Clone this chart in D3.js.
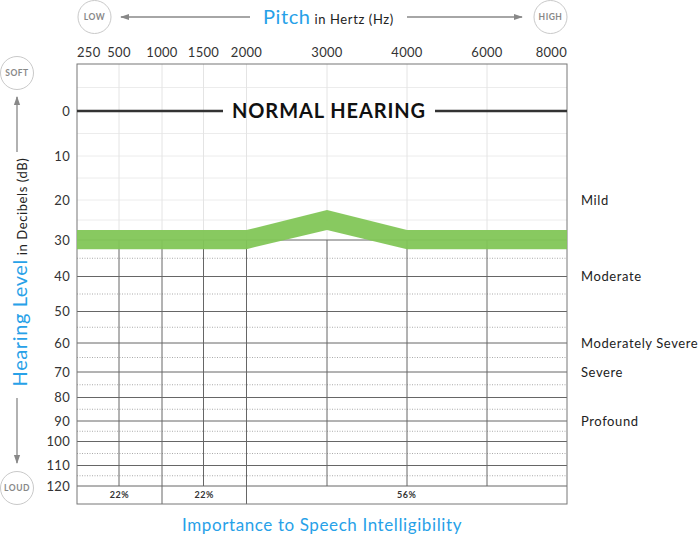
<!DOCTYPE html>
<html>
<head>
<meta charset="utf-8" />
<title>Audiogram</title>
<script src="https://cdn.jsdelivr.net/npm/d3@7"></script>
<style>
  body { margin: 0; background: #fff; }
  svg { font-family: Lato, "Open Sans", sans-serif; }
</style>
</head>
<body>
<div id="chart"></div>
<script>
// data
var freqs = [250, 500, 1000, 1500, 2000, 3000, 4000, 6000, 8000];
var freqLabels = ["250", "500", "1000", "1500", "2000", "3000", "4000", "6000", "8000"];
var dbTicks = [0, 10, 20, 30, 40, 50, 60, 70, 80, 90, 100, 110, 120];
var thresholdDb = [30, 30, 30, 30, 30, 25, 30, 30, 30];
var bandHalf = 2.5;
var degreeLabels = ["Mild", "Moderate", "Moderately Severe", "Severe", "Profound"];
var degreeDb = [20, 40, 60, 70, 90];
var importanceLabels = ["22%", "22%", "56%"];
var importanceFrom = [250, 1000, 2000];
var importanceTo = [1000, 2000, 8000];

// layout (the chart's axes are not linear, so the scales are piecewise)
var W = 699, H = 537;
var xStops = [77, 119, 162, 203.5, 246.5, 327, 407, 487, 567];
var yDomain = [-10].concat(dbTicks);
var yStops = [64, 111, 156, 200, 240, 276.5, 311.5, 343, 372, 397.5, 421, 441.5, 465.5, 486];
var bottomY = 504;
var blue = "#27a1e8";

var x = d3.scaleLinear().domain(freqs).range(xStops);
var y = d3.scaleLinear().domain(yDomain).range(yStops);

var svg = d3.select("#chart").append("svg").attr("width", W).attr("height", H);

var left = x(250), right = x(8000);

// light grid above 30 dB
var light = svg.append("g");
d3.range(-5, 30, 5).forEach(function(d) {
  if (d === 0) return;
  light.append("line")
    .attr("x1", left).attr("x2", right)
    .attr("y1", y(d)).attr("y2", y(d))
    .attr("stroke", "#ececec").attr("stroke-width", 1);
});
freqs.slice(1, -1).forEach(function(f) {
  light.append("line")
    .attr("x1", x(f)).attr("x2", x(f))
    .attr("y1", y(-10)).attr("y2", y(30))
    .attr("stroke", "#e4e4e4").attr("stroke-width", 1);
});

// dark grid from 30 dB down
var dark = svg.append("g");
d3.range(35, 120, 10).forEach(function(d) {
  dark.append("line")
    .attr("x1", left).attr("x2", right)
    .attr("y1", y(d)).attr("y2", y(d))
    .attr("stroke", "#aaa").attr("stroke-width", 1)
    .attr("stroke-dasharray", "1,1.5");
});
dbTicks.filter(function(d) { return d >= 30; }).forEach(function(d) {
  dark.append("line")
    .attr("x1", left).attr("x2", right)
    .attr("y1", y(d)).attr("y2", y(d))
    .attr("stroke", "#666").attr("stroke-width", 1);
});
freqs.slice(1, -1).forEach(function(f) {
  var full = importanceFrom.indexOf(f) >= 0;
  dark.append("line")
    .attr("x1", x(f)).attr("x2", x(f))
    .attr("y1", y(30)).attr("y2", full ? bottomY : y(120))
    .attr("stroke", "#666").attr("stroke-width", 1);
});

// frame
svg.append("rect")
  .attr("x", left).attr("y", y(-10))
  .attr("width", right - left).attr("height", bottomY - y(-10))
  .attr("fill", "none").attr("stroke", "#777").attr("stroke-width", 1);

// green threshold band
var band = freqs.map(function(f, i) { return { f: f, db: thresholdDb[i] }; });
svg.append("path")
  .datum(band)
  .attr("d", d3.area()
    .x(function(d) { return x(d.f); })
    .y0(function(d) { return y(d.db + bandHalf); })
    .y1(function(d) { return y(d.db - bandHalf); }))
  .attr("fill", "#82c657").attr("opacity", 0.95);

// normal hearing line at 0 dB
var nh = svg.append("text")
  .attr("x", 329).attr("y", y(0)).attr("dy", "0.36em")
  .attr("text-anchor", "middle")
  .attr("font-size", 20).attr("font-weight", 700).attr("fill", "#111")
  .attr("letter-spacing", 0.9)
  .text("NORMAL HEARING");
var bb = nh.node().getBBox();
svg.append("line").attr("x1", left).attr("x2", bb.x - 9)
  .attr("y1", y(0)).attr("y2", y(0)).attr("stroke", "#333").attr("stroke-width", 2.5);
svg.append("line").attr("x1", bb.x + bb.width + 9).attr("x2", right)
  .attr("y1", y(0)).attr("y2", y(0)).attr("stroke", "#333").attr("stroke-width", 2.5);

// y tick labels
svg.append("g").selectAll("text").data(dbTicks).join("text")
  .attr("x", 70).attr("y", function(d) { return y(d); }).attr("dy", "0.36em")
  .attr("text-anchor", "end").attr("font-size", 13).attr("fill", "#333")
  .attr("letter-spacing", 0.3)
  .text(function(d) { return d; });

// x tick labels on top
svg.append("g").selectAll("text").data(freqs).join("text")
  .attr("x", function(d) { return x(d); }).attr("y", 57)
  .attr("text-anchor", function(d, i) { return i === 0 ? "start" : (i === freqs.length - 1 ? "end" : "middle"); })
  .attr("font-size", 13).attr("fill", "#333").attr("letter-spacing", 0.3)
  .text(function(d, i) { return freqLabels[i]; });

// degree of loss labels
svg.append("g").selectAll("text").data(degreeLabels).join("text")
  .attr("x", 581).attr("y", function(d, i) { return y(degreeDb[i]); }).attr("dy", "0.36em")
  .attr("font-size", 13).attr("fill", "#222").attr("letter-spacing", 0.6)
  .text(function(d) { return d; });

// speech importance row
svg.append("g").selectAll("text").data(importanceLabels).join("text")
  .attr("x", function(d, i) { return (x(importanceFrom[i]) + x(importanceTo[i])) / 2; })
  .attr("y", (y(120) + bottomY) / 2).attr("dy", "0.36em")
  .attr("text-anchor", "middle").attr("font-size", 9).attr("font-weight", 700)
  .attr("fill", "#333").attr("letter-spacing", 0.6)
  .text(function(d) { return d; });

svg.append("text")
  .attr("x", 322).attr("y", 531).attr("text-anchor", "middle")
  .attr("font-size", 17).attr("fill", blue).attr("letter-spacing", 0.6)
  .text("Importance to Speech Intelligibility");

// arrowhead
svg.append("defs").append("marker")
  .attr("id", "arr").attr("viewBox", "0 0 10 10").attr("refX", 9).attr("refY", 5)
  .attr("markerWidth", 7).attr("markerHeight", 7).attr("orient", "auto")
  .append("path").attr("d", "M0,1.5L10,5L0,8.5Z").attr("fill", "#888");

function badge(cx, cy, label) {
  svg.append("circle").attr("cx", cx).attr("cy", cy).attr("r", 16.5)
    .attr("fill", "#fff").attr("stroke", "#c9c9c9").attr("stroke-width", 1);
  svg.append("text").attr("x", cx).attr("y", cy).attr("dy", "0.36em")
    .attr("text-anchor", "middle").attr("font-size", 8.5).attr("font-weight", 700)
    .attr("fill", "#888").attr("letter-spacing", 0.5).text(label);
}
function arrow(x1, y1, x2, y2) {
  svg.append("line").attr("x1", x1).attr("y1", y1).attr("x2", x2).attr("y2", y2)
    .attr("stroke", "#888").attr("stroke-width", 1.3).attr("marker-end", "url(#arr)");
}

// pitch header
badge(94.5, 17, "LOW");
badge(550.5, 17, "HIGH");
arrow(250, 17, 121, 17);
arrow(407, 17, 522, 17);
var pitch = svg.append("text").attr("x", 263).attr("y", 24).attr("letter-spacing", 0.6);
pitch.append("tspan").attr("font-size", 20).attr("fill", blue).text("Pitch");
pitch.append("tspan").attr("font-size", 13).attr("fill", "#222").text(" in Hertz (Hz)");

// hearing level side title
badge(17, 73, "SOFT");
badge(17, 488, "LOUD");
arrow(17, 152, 17, 97);
arrow(17, 398, 17, 463);
var side = svg.append("text")
  .attr("transform", "translate(27," + 272 + ") rotate(-90)")
  .attr("text-anchor", "middle").attr("letter-spacing", 0.6);
side.append("tspan").attr("font-size", 20).attr("fill", blue).text("Hearing Level");
side.append("tspan").attr("font-size", 13).attr("fill", "#222").text(" in Decibels (dB)");
</script>
</body>
</html>
